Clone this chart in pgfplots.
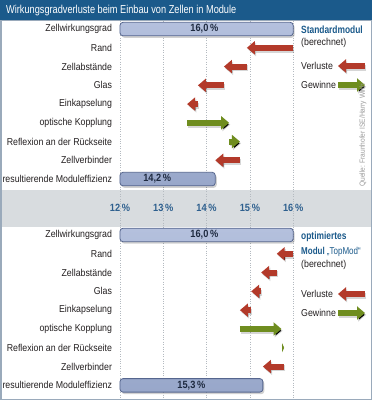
\documentclass[border=0pt]{standalone}
\usepackage{fontspec}
\setmainfont{Liberation Sans}[FakeStretch=0.88]
\newfontfamily\condfont{Liberation Sans}[FakeStretch=0.8]
\usepackage{pgfplots}
\pgfplotsset{compat=1.18}
\usetikzlibrary{arrows.meta}
\definecolor{titleblue}{HTML}{1B5A8B}
\definecolor{tickblue}{HTML}{2D5F8E}
\definecolor{framecol}{HTML}{9AAABB}
\definecolor{bandgrey}{HTML}{D8DCDF}
\definecolor{bartop}{HTML}{B4C0DD}
\definecolor{barbot}{HTML}{98A7CA}
\definecolor{bardraw}{HTML}{56668E}
\definecolor{lossred}{HTML}{B33A2A}
\definecolor{gaingreen}{HTML}{6F8D1F}
\definecolor{gridcol}{HTML}{B4BAC0}
\definecolor{textcol}{HTML}{231F20}
\definecolor{labelnavy}{HTML}{1E2A40}
\pgfplotsset{
  panel/.style={
    scale only axis, clip=false,
    x=43.3pt, y dir=reverse,
    xmin=0, xmax=4.6,
    axis line style={draw=none}, major tick length=0pt,
    xtick={0,1,2,3,4},
    ytick={0,...,8},
    yticklabels={Zellwirkungsgrad,Rand,Zellabst\"ande,Glas,Einkapselung,optische Kopplung,Reflexion an der R\"uckseite,Zellverbinder,resultierende Moduleffizienz},
    yticklabel style={font=\fontsize{10}{12}\selectfont, text=textcol, xshift=-4.5pt},
    xmajorgrids, grid style={dotted, gridcol, line width=0.6pt},
  },
  loss/.style={quiver={u=\thisrow{u},v=0}, draw=lossred, line width=6pt, -{Triangle[width=13pt,length=8pt]}, mark=none},
  gain/.style={quiver={u=\thisrow{u},v=0}, draw=gaingreen, line width=6pt, -{Triangle[width=13pt,length=8pt]}, mark=none},
  shadowarrow/.style={quiver={u=\thisrow{u},v=0}, draw=black, draw opacity=0.16, line width=6pt, -{Triangle[width=13pt,length=8pt]}, mark=none, xshift=1.2pt, yshift=-1.8pt},
  mybar/.style={xbar, bar width=13.5pt, top color=bartop, bottom color=barbot, draw=bardraw, line width=0.8pt, rounded corners=3pt},
  barshadow/.style={xbar, bar width=13.5pt, fill=black, fill opacity=0.18, draw=none, rounded corners=3pt, xshift=1.5pt, yshift=-2pt},
}
\begin{document}
\begin{tikzpicture}[x=1pt,y=1pt]
\path[use as bounding box] (0,0) rectangle (372,-400);
\fill[framecol] (0,0) rectangle (372,-400);
\fill[titleblue] (0,0) rectangle (372,-20);
\node[anchor=west, text=white, font=\condfont\fontsize{11.5}{13}\selectfont, inner sep=0pt] at (6,-10.5) {Wirkungsgradverluste beim Einbau von Zellen in Module};
\fill[white] (1.5,-21) rectangle (370.5,-190);
\fill[bandgrey] (1.5,-190) rectangle (370.5,-226.5);
\fill[white] (1.5,-226.5) rectangle (370.5,-398.5);

% ---------- top panel: Standardmodul ----------
\begin{axis}[panel, at={(120pt,-21pt)}, anchor=north west,
  y=18.75pt, ymin=-0.43, ymax=10.53,
  xticklabels={{12\,\%},{13\,\%},{14\,\%},{15\,\%},{16\,\%}},
  xticklabel style={anchor=center, yshift=18.5pt, text=tickblue, font=\bfseries\fontsize{10.5}{12}\selectfont},
]
\addplot[barshadow] table[x expr=\thisrow{v}-12, y=row, row sep=\\] {row v\\ 0 16.0\\ 8 14.2\\};
\addplot[mybar] table[x expr=\thisrow{v}-12, y=row, row sep=\\] {row v\\ 0 16.0\\ 8 14.2\\};
\addplot[shadowarrow] table[x expr=\thisrow{x}-12, y=row, row sep=\\] {row x u\\ 1 16.00 -1.07\\ 2 14.93 -0.53\\ 3 14.40 -0.60\\ 4 13.80 -0.25\\ 5 13.55 0.97\\ 6 14.52 0.25\\ 7 14.77 -0.57\\};
\addplot[loss] table[x expr=\thisrow{x}-12, y=row, row sep=\\] {row x u\\ 1 16.00 -1.07\\ 2 14.93 -0.53\\ 3 14.40 -0.60\\ 4 13.80 -0.25\\ 7 14.77 -0.57\\};
\addplot[gain] table[x expr=\thisrow{x}-12, y=row, row sep=\\] {row x u\\ 5 13.55 0.97\\ 6 14.52 0.25\\};
\node[font=\bfseries\fontsize{10.5}{12}\selectfont, text=labelnavy] at (axis cs:1.95,0) {16,0\,\%};
\node[font=\bfseries\fontsize{10.5}{12}\selectfont, text=labelnavy] at (axis cs:0.86,8) {14,2\,\%};
\end{axis}

% ---------- bottom panel: TopMod ----------
\begin{axis}[panel, at={(120pt,-226.5pt)}, anchor=north west,
  y=18.8pt, ymin=-0.45, ymax=8.66,
  xticklabels={},
]
\addplot[barshadow] table[x expr=\thisrow{v}-12, y=row, row sep=\\] {row v\\ 0 16.0\\ 8 15.3\\};
\addplot[mybar] table[x expr=\thisrow{v}-12, y=row, row sep=\\] {row v\\ 0 16.0\\ 8 15.3\\};
\addplot[shadowarrow] table[x expr=\thisrow{x}-12, y=row, row sep=\\] {row x u\\ 1 16.00 -0.38\\ 2 15.62 -0.36\\ 3 15.26 -0.23\\ 4 15.03 -0.26\\ 5 14.77 0.96\\ 7 15.79 -0.49\\};
\addplot[loss] table[x expr=\thisrow{x}-12, y=row, row sep=\\] {row x u\\ 1 16.00 -0.38\\ 2 15.62 -0.36\\ 3 15.26 -0.23\\ 4 15.03 -0.26\\ 7 15.79 -0.49\\};
\addplot[gain] table[x expr=\thisrow{x}-12, y=row, row sep=\\] {row x u\\ 5 14.77 0.96\\};
\addplot[quiver={u=\thisrow{u},v=0}, draw=gaingreen, line width=6pt, -{Triangle[width=9pt,length=2pt]}, mark=none] table[x expr=\thisrow{x}-12, y=row, row sep=\\] {row x u\\ 6 15.73 0.06\\};
\node[font=\bfseries\fontsize{10.5}{12}\selectfont, text=labelnavy] at (axis cs:1.95,0) {16,0\,\%};
\node[font=\bfseries\fontsize{10.5}{12}\selectfont, text=labelnavy] at (axis cs:1.65,8) {15,3\,\%};
\end{axis}

% ---------- right-hand notes ----------
\begin{scope}[every node/.style={anchor=west, inner sep=0pt, font=\fontsize{10}{12}\selectfont, text=textcol}]
\node[text=titleblue, font=\condfont\bfseries\fontsize{10.5}{12}\selectfont] at (301,-30) {Standardmodul};
\node at (301,-43) {(berechnet)};
\node at (301,-66) {Verluste};
\node at (301,-85) {Gewinne};
\node[text=titleblue, font=\condfont\bfseries\fontsize{10.5}{12}\selectfont] at (301,-237) {optimiertes};
\node[text=titleblue, font=\condfont\fontsize{10}{12}\selectfont] at (301,-251.5) {\textbf{Modul} „TopMod“};
\node at (301,-265) {(berechnet)};
\node at (301,-294) {Verluste};
\node at (301,-313) {Gewinne};
\end{scope}
\foreach \yy in {-66,-294} {
  \draw[black, draw opacity=0.16, line width=6pt, -{Triangle[width=13pt,length=8pt]}] (366.2,\yy-1.8) -- (339.2,\yy-1.8);
  \draw[lossred, line width=6pt, -{Triangle[width=13pt,length=8pt]}] (365,\yy) -- (338,\yy);
}
\foreach \yy in {-85,-313} {
  \draw[black, draw opacity=0.16, line width=6pt, -{Triangle[width=13pt,length=8pt]}] (339.2,\yy-1.8) -- (366.2,\yy-1.8);
  \draw[gaingreen, line width=6pt, -{Triangle[width=13pt,length=8pt]}] (338,\yy) -- (365,\yy);
}
\node[rotate=90, anchor=west, inner sep=0pt, text=gray!80, font=\fontsize{7.5}{9}\selectfont] at (363,-187) {Quelle: Fraunhofer ISE/Harry Wirth};
\end{tikzpicture}
\end{document}
